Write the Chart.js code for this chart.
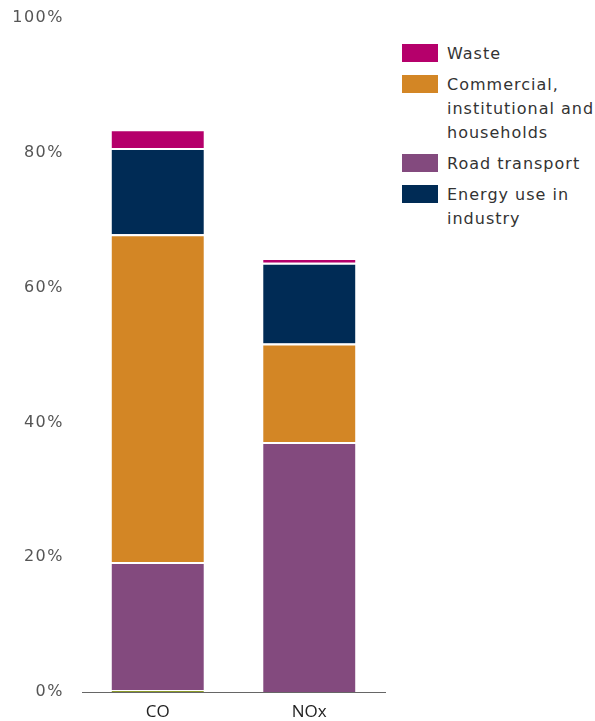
<!DOCTYPE html>
<html>
<head>
<meta charset="utf-8">
<script src="https://cdn.jsdelivr.net/npm/chart.js@4"></script>
<style>
  body { margin: 0; background: #fff; font-family: "DejaVu Sans", Verdana, sans-serif; }
  #wrap { position: relative; width: 595px; height: 721px; }
  #chartBox { position: absolute; left: 0; top: 0; width: 400px; height: 721px; }
  #legend { position: absolute; left: 402px; top: 42px; width: 193px; color: #333; font-size: 16px; line-height: 24px; letter-spacing: 1px; }
  .item { position: relative; padding-left: 45px; margin-bottom: 7px; }
  .sw { position: absolute; left: 0; top: 2px; width: 36px; height: 18px; }
</style>
</head>
<body>
<div id="wrap">
  <div id="chartBox"><canvas id="emissions"></canvas></div>
  <div id="legend"></div>
</div>
<script>
// pollutants on the x axis
const categories = ["CO", "NOx"];

// shares of total emissions (%)
const otherValues = [0.3, 0];
const roadValues = [19.0, 37.1];
const commercialValues = [48.6, 14.6];
const energyValues = [12.8, 12.0];
const wasteValues = [2.8, 0.7];

const yTicks = [0, 20, 40, 60, 80, 100];

const colors = {
  other: "#8c9a2b",
  road: "#834a7e",
  commercial: "#d38625",
  energy: "#002b55",
  waste: "#b5006b",
};

function bar(label, values, color) {
  return {
    label: label,
    data: values,
    backgroundColor: color,
    borderColor: "#fff",
    borderWidth: { top: 2, left: 1, right: 1, bottom: 0 },
    borderSkipped: false,
  };
}

const datasets = [
  bar("Other", otherValues, colors.other),
  bar("Road transport", roadValues, colors.road),
  bar("Commercial, institutional and households", commercialValues, colors.commercial),
  bar("Energy use in industry", energyValues, colors.energy),
  bar("Waste", wasteValues, colors.waste),
];

// legend is listed top-down: Waste, Commercial, Road, Energy
const legendOrder = [
  { text: ["Waste"], color: colors.waste },
  { text: ["Commercial,", "institutional and", "households"], color: colors.commercial },
  { text: ["Road transport"], color: colors.road },
  { text: ["Energy use in", "industry"], color: colors.energy },
];
const legendEl = document.getElementById("legend");
legendOrder.forEach(function (l) {
  const div = document.createElement("div");
  div.className = "item";
  div.innerHTML = '<span class="sw" style="background:' + l.color + '"></span>' + l.text.join("<br>");
  legendEl.appendChild(div);
});

// y tick labels are a little wider than DejaVu gives, widen only those
const spacing = {
  id: "spacing",
  beforeDraw: function (chart) {
    const y = chart.scales.y;
    if (y._spaced) return;
    const orig = y.drawLabels;
    y.drawLabels = function (area) {
      this.ctx.save();
      this.ctx.letterSpacing = "1.5px";
      orig.call(this, area);
      this.ctx.restore();
    };
    y._spaced = true;
  },
};

const ctx = document.getElementById("emissions").getContext("2d");

new Chart(ctx, {
  type: "bar",
  data: { labels: categories, datasets: datasets },
  plugins: [spacing],
  options: {
    responsive: true,
    maintainAspectRatio: false,
    animation: false,
    layout: { padding: { top: 18, right: 15, left: 0, bottom: 0 } },
    plugins: { legend: { display: false }, tooltip: { enabled: false } },
    datasets: { bar: { barPercentage: 0.62, categoryPercentage: 1.0 } },
    scales: {
      x: {
        stacked: true,
        grid: { display: false, drawTicks: false },
        border: { display: true, color: "#666", width: 1 },
        ticks: { color: "#222", font: { family: "Open Sans", size: 17 }, padding: 10 },
        afterFit: function (s) { s.height = 29; },
      },
      y: {
        stacked: true,
        min: 0,
        max: 100,
        afterBuildTicks: function (s) { s.ticks = yTicks.map(function (v) { return { value: v }; }); },
        grid: { display: false, drawTicks: false },
        border: { display: false },
        ticks: {
          color: "#555",
          font: { family: "DejaVu Sans", size: 16 },
          padding: 18,
          callback: function (v) { return v + "%"; },
        },
        afterFit: function (s) {
          s.width = 82;
          s.paddingTop = 0;
          s.paddingBottom = 0;
        },
      },
    },
  },
});
</script>
</body>
</html>
